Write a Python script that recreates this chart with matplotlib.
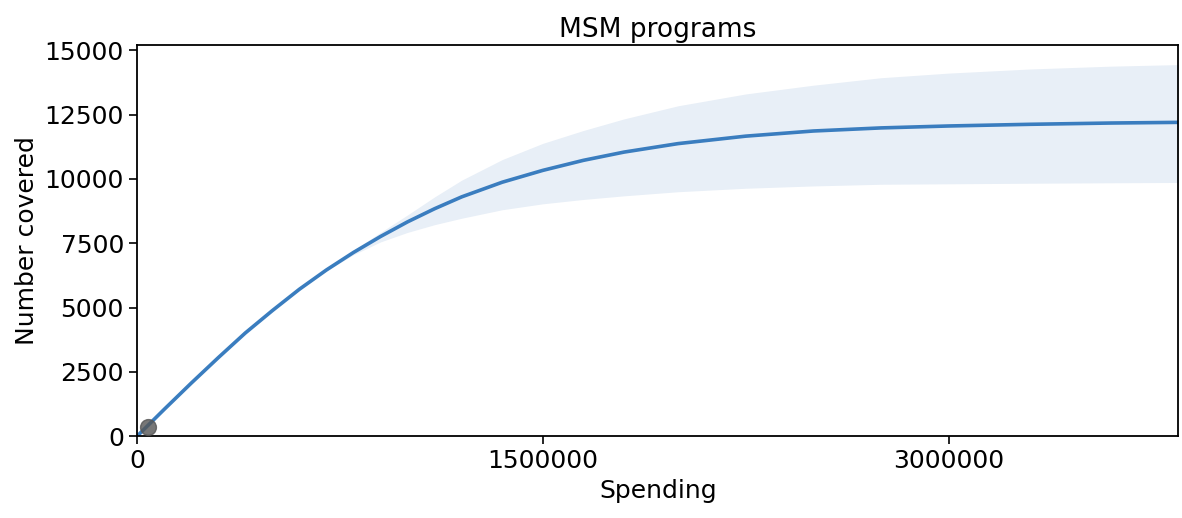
import matplotlib.pyplot as plt

# values
spending = [0, 100000, 200000, 300000, 400000, 500000, 600000, 700000, 800000,
            900000, 1000000, 1100000, 1200000, 1350000, 1500000, 1650000, 1800000,
            2000000, 2250000, 2500000, 2750000, 3000000, 3300000, 3600000, 3850000]
covered = [0, 1040, 2060, 3050, 4010, 4880, 5710, 6460, 7140,
           7760, 8330, 8840, 9300, 9870, 10330, 10720, 11040,
           11370, 11660, 11860, 11980, 12055, 12120, 12170, 12196]
upper = [0, 1040, 2060, 3050, 4010, 4880, 5715, 6490, 7230,
         7920, 8600, 9300, 9950, 10750, 11380, 11880, 12330,
         12840, 13300, 13640, 13930, 14110, 14270, 14380, 14441]
lower = [0, 1040, 2060, 3050, 4010, 4880, 5705, 6430, 7050,
         7550, 7920, 8220, 8470, 8800, 9030, 9200, 9340,
         9500, 9635, 9725, 9790, 9808, 9830, 9848, 9860]

obs_spending = [41000]
obs_covered = [350]

xticks = [0, 1500000, 3000000]
yticks = [0, 2500, 5000, 7500, 10000, 12500, 15000]

fig = plt.figure(figsize=(11.82, 5.18), dpi=100)
ax = fig.add_axes([0.116, 0.158, 0.881, 0.755])

ax.fill_between(spending, lower, upper, color="#e8eff7", linewidth=0)
ax.plot(spending, covered, color="#3a7dbf", linewidth=2.6)
ax.scatter(obs_spending, obs_covered, s=130, color="#555555", alpha=0.8, zorder=3)

ax.set_xlim(0, 3850000)
ax.set_ylim(0, 15200)
ax.set_xticks(xticks)
ax.set_xticklabels([str(t) for t in xticks])
ax.set_yticks(yticks)
ax.set_yticklabels([str(t) for t in yticks])
ax.tick_params(labelsize=18, length=6, width=1.2)
for s in ax.spines.values():
    s.set_linewidth(1.3)

ax.set_title("MSM programs", fontsize=19)
ax.set_xlabel("Spending", fontsize=18)
ax.set_ylabel("Number covered", fontsize=18)

fig.savefig("out.png", dpi=100)
